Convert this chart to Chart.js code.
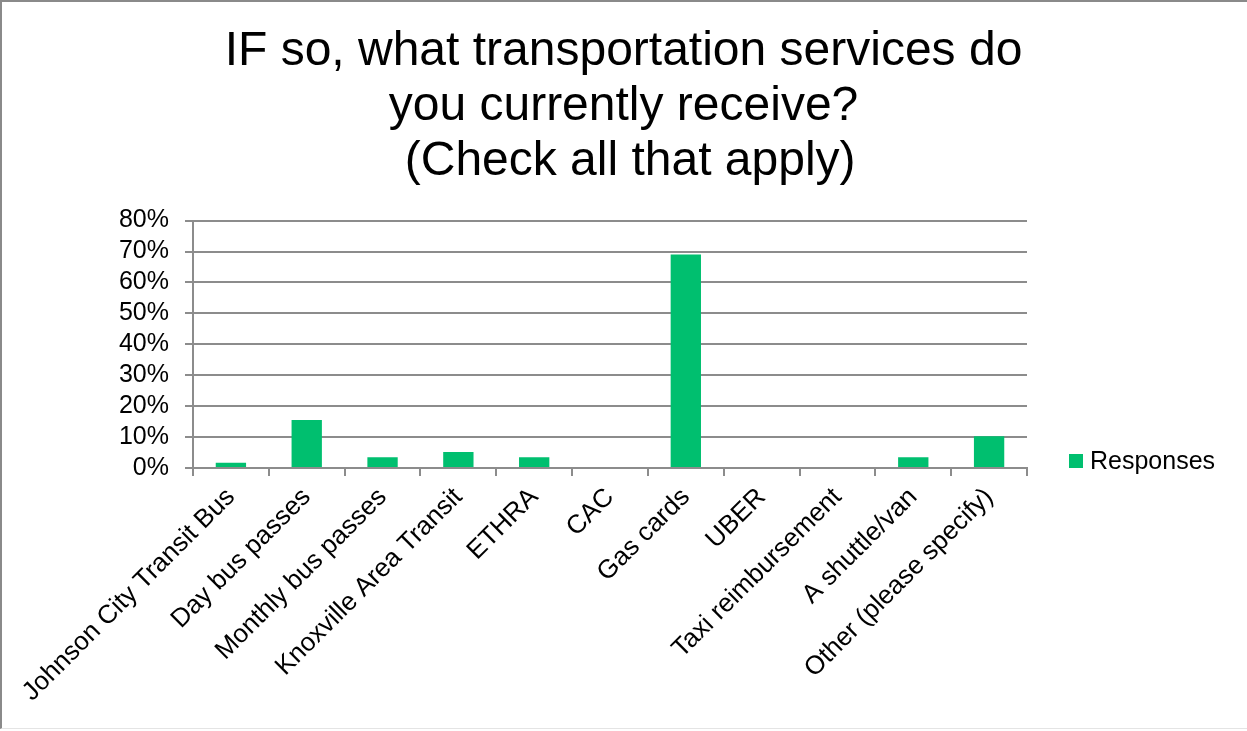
<!DOCTYPE html>
<html>
<head>
<meta charset="utf-8">
<script src="https://cdn.jsdelivr.net/npm/chart.js@4.4.1/dist/chart.umd.min.js"></script>
<style>
    html, body { margin: 0; padding: 0; background: #ffffff; }
    #wrap { position: relative; width: 1247px; height: 731px; }
    #frame {
        position: absolute; left: 0; top: 0; width: 1247px; height: 729px;
        border-top: 2px solid #8a8a8a; border-left: 2px solid #8a8a8a;
        border-bottom: 1px solid #e4e4e4; box-sizing: border-box; pointer-events: none;
    }
</style>
</head>
<body>
<div id="wrap">
    <canvas id="chart"></canvas>
    <div id="frame"></div>
</div>
<script>
const titleLines = ["IF so, what transportation services do", "you currently receive?", " (Check all that apply)"];

const categories = [
    "Johnson City Transit Bus",
    "Day bus passes",
    "Monthly bus passes",
    "Knoxville Area Transit",
    "ETHRA",
    "CAC",
    "Gas cards",
    "UBER",
    "Taxi reimbursement",
    "A shuttle/van",
    "Other (please specify)",
];

const responses = [0.0172, 0.155, 0.0345, 0.0517, 0.0345, 0, 0.69, 0, 0, 0.0345, 0.103];

const yTicks = [0, 0.1, 0.2, 0.3, 0.4, 0.5, 0.6, 0.7, 0.8];

const green = "#00bf6f";
const gridGrey = "#8c8c8c";
const fontFamily = "'Liberation Sans', Arial, sans-serif";

// legend drawn to the right of the plot, level with the bottom of the bars
const sideLegend = {
    id: "sideLegend",
    afterDraw(chart) {
        const { ctx, chartArea } = chart;
        const dataset = chart.data.datasets[0];
        const x = chartArea.right + 42;
        const y = chartArea.bottom - 7;
        ctx.save();
        ctx.fillStyle = dataset.backgroundColor;
        ctx.fillRect(x, y - 7, 14, 14);
        ctx.fillStyle = "#000000";
        ctx.font = `25px ${fontFamily}`;
        ctx.textBaseline = "middle";
        ctx.fillText(dataset.label, x + 21, y + 1);
        ctx.restore();
    },
};

function renderChart(canvas) {
    new Chart(canvas, {
        type: "bar",
        data: {
            labels: categories,
            datasets: [
                {
                    label: "Responses",
                    data: responses,
                    backgroundColor: green,
                    borderWidth: 0,
                    categoryPercentage: 1,
                    barPercentage: 0.4,
                },
            ],
        },
        options: {
            responsive: true,
            maintainAspectRatio: false,
            animation: false,
            layout: {
                padding: 0,
            },
            plugins: {
                title: {
                    display: true,
                    text: titleLines,
                    color: "#000000",
                    font: { family: fontFamily, size: 48, weight: "normal", lineHeight: 1.15 },
                    padding: { top: 24, bottom: 31 },
                },
                legend: { display: false },
                tooltip: { enabled: false },
            },
            scales: {
                x: {
                    grid: {
                        display: true,
                        drawOnChartArea: false,
                        offset: true,
                        tickLength: 8,
                        color: gridGrey,
                        lineWidth: 2,
                    },
                    border: { display: true, color: gridGrey, width: 2 },
                    ticks: {
                        color: "#000000",
                        font: { family: fontFamily, size: 26 },
                        minRotation: 45,
                        maxRotation: 45,
                        autoSkip: false,
                        padding: 6,
                    },
                    afterFit: (scale) => {
                        scale.height = 263;
                        scale.paddingLeft = 0;
                        // room on the right for the legend
                        scale.paddingRight = 220;
                    },
                },
                y: {
                    min: 0,
                    max: yTicks[yTicks.length - 1],
                    afterBuildTicks: (scale) => {
                        scale.ticks = yTicks.map((value) => ({ value }));
                    },
                    afterFit: (scale) => {
                        scale.width = 193;
                    },
                    grid: {
                        color: gridGrey,
                        lineWidth: 2,
                        tickLength: 8,
                    },
                    border: { display: true, color: gridGrey, width: 2 },
                    ticks: {
                        color: "#000000",
                        font: { family: fontFamily, size: 25 },
                        padding: 16,
                        autoSkip: false,
                        callback: (value) => `${Math.round(value * 100)}%`,
                    },
                },
            },
        },
        plugins: [sideLegend],
    });
}

renderChart(document.getElementById("chart"));
</script>
</body>
</html>
